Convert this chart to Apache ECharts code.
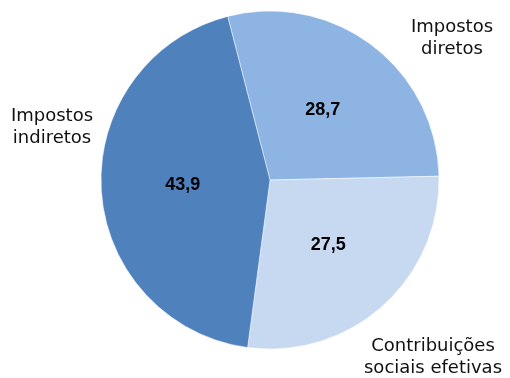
<!DOCTYPE html>
<html><head><meta charset="utf-8">
<script src="https://cdn.jsdelivr.net/npm/echarts@6/dist/echarts.min.js"></script>
<style>html,body{margin:0;padding:0;background:#fff}#c{width:510px;height:378px}</style>
</head><body><div id="c"></div>
<script>
const categories = ['Impostos\ndiretos', 'Contribuições\nsociais efetivas', 'Impostos\nindiretos'];
const values = [28.7, 27.5, 43.9];
const valueLabels = ['28,7', '27,5', '43,9'];
const colors = ['#8EB4E3', '#C6D9F1', '#4F81BD'];
const namePos = [[452, 38], [433, 357], [52, 127]];

const chart = echarts.init(document.getElementById('c'), null, {renderer: 'canvas'});
const data = categories.map((n, i) => ({name: n, value: values[i], itemStyle: {color: colors[i]}}));
chart.setOption({
  backgroundColor: '#ffffff',
  series: [
    {
      type: 'pie', center: [270, 180], radius: [0, 169], startAngle: 104.5, clockwise: true,
      animation: false, silent: true, data: data,
      itemStyle: {borderColor: '#ffffff', borderWidth: 0.5},
      label: {show: true, position: 'inside', fontFamily: 'Liberation Sans', fontWeight: 'bold', fontSize: 18, color: '#000',
        formatter: p => valueLabels[p.dataIndex]},
      labelLine: {show: false}
    },
    {
      type: 'pie', center: [270, 180], radius: [0, 169], startAngle: 104.5, clockwise: true,
      animation: false, silent: true, z: 3,
      data: categories.map((n, i) => ({name: n, value: values[i], itemStyle: {color: 'rgba(0,0,0,0)', borderWidth: 0}})),
      label: {show: true, position: 'outside', fontFamily: 'DejaVu Sans', fontSize: 18, lineHeight: 22, color: '#111', align: 'center',
        overflow: 'none', width: 300, edgeDistance: 0,
        formatter: p => p.name},
      labelLine: {show: false},
      labelLayout: p => ({x: namePos[p.dataIndex][0], y: namePos[p.dataIndex][1], align: 'center', verticalAlign: 'middle', hideOverlap: false})
    }
  ]
});
</script></body></html>
